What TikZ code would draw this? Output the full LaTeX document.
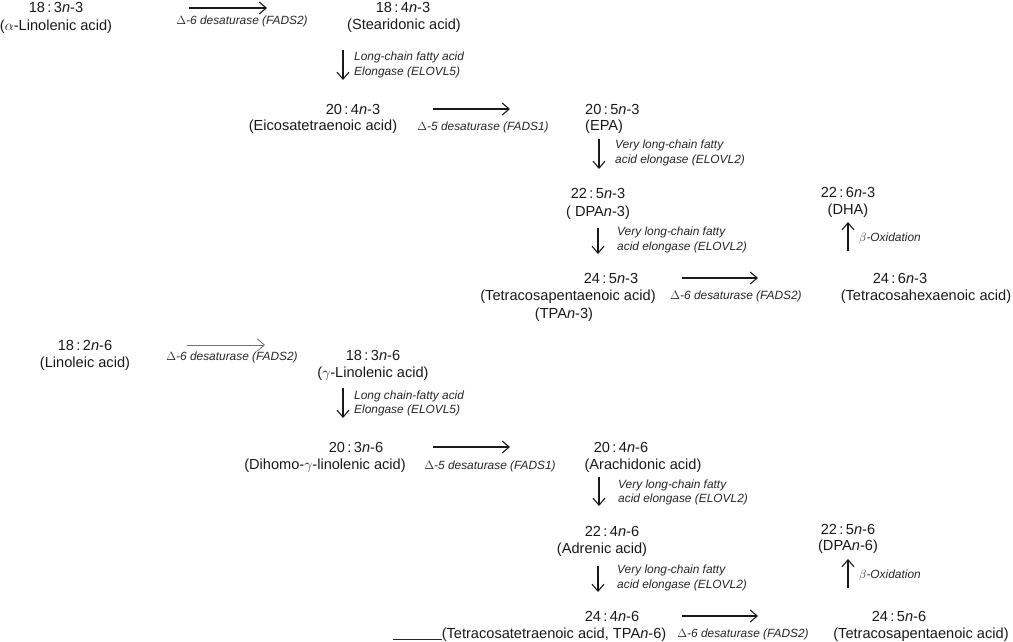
\documentclass[tikz,border=0pt]{standalone}
\usepackage{fontspec}
\setmainfont{Liberation Sans}
\usetikzlibrary{arrows.meta}
\newcommand{\fa}[3]{#1\,:\,#2\textit{n}-#3}
\begin{document}
\begin{tikzpicture}[x=1pt,y=-1pt,
  cmp/.style={font=\fontsize{14.6}{17}\selectfont, inner sep=0pt, anchor=base, text=black!90},
  enz/.style={font=\fontsize{11.9}{14}\selectfont\itshape, inner sep=0pt, anchor=base west, text=black!85},
  enzc/.style={enz, anchor=base},
  rx/.style={-{Straight Barb[length=7pt,width=12pt]}, line width=1.1pt, black!90},
  rxg/.style={rx, line width=0.8pt, black!55},
  ]
\useasboundingbox (0,0) rectangle (1013,642);

% ---------- n-3 series ----------
\node[cmp] (a1) at (56,13) {\fa{18}{3}{3}};
\node[cmp] (a1n) at (56,31) {($\alpha$-Linolenic acid)};
\coordinate (r1s) at (189,8); \coordinate (r1e) at (267,8);
\draw[rx] (r1s) -- (r1e);
\node[enzc] (e1) at (242,25) {$\Delta$-6 desaturase (FADS2)};

\node[cmp] (a2) at (403,13) {\fa{18}{4}{3}};
\node[cmp] (a2n) at (404,30) {(Stearidonic acid)};
\coordinate (r2s) at (343,50); \coordinate (r2e) at (343,80);
\draw[rx] (r2s) -- (r2e);
\node[enz] (e2a) at (354,61) {Long-chain fatty acid};
\node[enz] (e2b) at (354,76) {Elongase (ELOVL5)};

\node[cmp] (a3) at (353,114) {\fa{20}{4}{3}};
\node[cmp] (a3n) at (323,130) {(Eicosatetraenoic acid)};
\coordinate (r3s) at (433,109); \coordinate (r3e) at (510,109);
\draw[rx] (r3s) -- (r3e);
\node[enzc] (e3) at (483,131) {$\Delta$-5 desaturase (FADS1)};

\node[cmp, anchor=base west] (a4) at (585,114) {\fa{20}{5}{3}};
\node[cmp, anchor=base west] (a4n) at (585,131) {(EPA)};
\coordinate (r4s) at (599,139); \coordinate (r4e) at (599,169);
\draw[rx] (r4s) -- (r4e);
\node[enz] (e4a) at (615,149) {Very long-chain fatty};
\node[enz] (e4b) at (615,163) {acid elongase (ELOVL2)};

\node[cmp] (a5) at (598,198) {\fa{22}{5}{3}};
\node[cmp] (a5n) at (598,216) {( DPA\textit{n}-3)};
\coordinate (r5s) at (598,228); \coordinate (r5e) at (598,254);
\draw[rx] (r5s) -- (r5e);
\node[enz] (e5a) at (617,235) {Very long-chain fatty};
\node[enz] (e5b) at (617,250) {acid elongase (ELOVL2)};

\node[cmp] (a6) at (611,283) {\fa{24}{5}{3}};
\node[cmp] (a6n) at (568,300) {(Tetracosapentaenoic acid)};
\node[cmp] (a6t) at (564,318) {(TPA\textit{n}-3)};
\coordinate (r6s) at (682,278); \coordinate (r6e) at (758,278);
\draw[rx] (r6s) -- (r6e);
\node[enzc] (e6) at (736,299) {$\Delta$-6 desaturase (FADS2)};

\node[cmp] (a7) at (900,283) {\fa{24}{6}{3}};
\node[cmp] (a7n) at (926,300) {(Tetracosahexaenoic acid)};
\coordinate (r7s) at (848,251); \coordinate (r7e) at (848,222);
\draw[rx] (r7s) -- (r7e);
\node[enz] (e7) at (859,241) {$\beta$-Oxidation};

\node[cmp] (a8) at (848,197) {\fa{22}{6}{3}};
\node[cmp] (a8n) at (848,214) {(DHA)};

% ---------- n-6 series ----------
\node[cmp] (b1) at (85,350) {\fa{18}{2}{6}};
\node[cmp] (b1n) at (85,367) {(Linoleic acid)};
\coordinate (s1s) at (187,345); \coordinate (s1e) at (265,345);
\draw[rxg] (s1s) -- (s1e);
\node[enzc] (f1) at (232,360) {$\Delta$-6 desaturase (FADS2)};

\node[cmp] (b2) at (373,360) {\fa{18}{3}{6}};
\node[cmp] (b2n) at (373,377) {($\gamma$-Linolenic acid)};
\coordinate (s2s) at (343,388); \coordinate (s2e) at (343,418);
\draw[rx] (s2s) -- (s2e);
\node[enz] (f2a) at (354,399) {Long chain-fatty acid};
\node[enz] (f2b) at (354,413) {Elongase (ELOVL5)};

\node[cmp] (b3) at (356,452) {\fa{20}{3}{6}};
\node[cmp] (b3n) at (325,469) {(Dihomo-$\gamma$-linolenic acid)};
\coordinate (s3s) at (433,447); \coordinate (s3e) at (510,447);
\draw[rx] (s3s) -- (s3e);
\node[enzc] (f3) at (490,469) {$\Delta$-5 desaturase (FADS1)};

\node[cmp] (b4) at (621,452) {\fa{20}{4}{6}};
\node[cmp] (b4n) at (643,469) {(Arachidonic acid)};
\coordinate (s4s) at (599,477); \coordinate (s4e) at (599,506);
\draw[rx] (s4s) -- (s4e);
\node[enz] (f4a) at (618,488) {Very long-chain fatty};
\node[enz] (f4b) at (618,502) {acid elongase (ELOVL2)};

\node[cmp] (b5) at (612,536) {\fa{22}{4}{6}};
\node[cmp] (b5n) at (602,553) {(Adrenic acid)};
\coordinate (s5s) at (598,566); \coordinate (s5e) at (598,592);
\draw[rx] (s5s) -- (s5e);
\node[enz] (f5a) at (617,573) {Very long-chain fatty};
\node[enz] (f5b) at (617,588) {acid elongase (ELOVL2)};

\node[cmp] (b6) at (612,621) {\fa{24}{4}{6}};
\node[cmp] (b6n) at (554,638) {(Tetracosatetraenoic acid, TPA\textit{n}-6)};
\coordinate (u1) at (393,639);
\draw[line width=0.9pt, black!85] (u1) -- (u1 -| b6n.west);
\coordinate (s6s) at (682,616); \coordinate (s6e) at (758,616);
\draw[rx] (s6s) -- (s6e);
\node[enzc] (f6) at (743,637) {$\Delta$-6 desaturase (FADS2)};

\node[cmp] (b7) at (899,621) {\fa{24}{5}{6}};
\node[cmp] (b7n) at (921,638) {(Tetracosapentaenoic acid)};
\coordinate (s7s) at (848,588); \coordinate (s7e) at (848,559);
\draw[rx] (s7s) -- (s7e);
\node[enz] (f7) at (859,578) {$\beta$-Oxidation};

\node[cmp] (b8) at (848,534) {\fa{22}{5}{6}};
\node[cmp] (b8n) at (848,550) {(DPA\textit{n}-6)};
\end{tikzpicture}
\end{document}
